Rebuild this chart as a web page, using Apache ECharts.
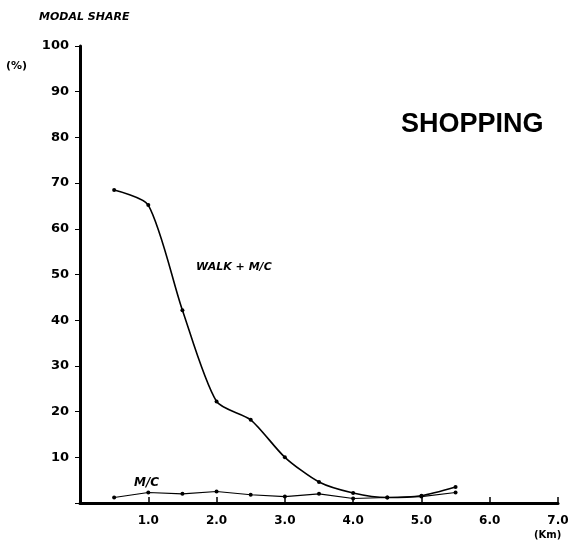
<!DOCTYPE html>
<html>
<head>
<meta charset="utf-8">
<script src="https://cdn.jsdelivr.net/npm/echarts@6/dist/echarts.min.js"></script>
<style>html,body{margin:0;padding:0;background:#fff;}#c{width:576px;height:546px;}</style>
</head>
<body>
<div id="c"></div>
<script>
// Distance (km)
var distances = [0.5, 1.0, 1.5, 2.0, 2.5, 3.0, 3.5, 4.0, 4.5, 5.0, 5.5];
// Modal share (%) WALK + M/C
var walkMc = [68.5, 65.2, 42.2, 22.2, 18.2, 10.0, 4.6, 2.2, 1.2, 1.6, 3.5];
// Modal share (%) M/C
var mc = [1.2, 2.3, 2.0, 2.5, 1.8, 1.4, 2.0, 1.0, 1.2, 1.4, 2.3];
var chartTitle = 'SHOPPING';
var yName = 'MODAL SHARE';
var xName = '(Km)';

function pairs(xs, ys) { return xs.map(function (x, i) { return [x, ys[i]]; }); }

var chart = echarts.init(document.getElementById('c'));
var font = 'Liberation Sans, Arial, sans-serif';
var wide = '"DejaVu Sans", sans-serif';
chart.setOption({
  animation: false,
  backgroundColor: '#fff',
  grid: { left: 80, right: 18, top: 46, bottom: 43 },
  xAxis: {
    type: 'value', min: 0, max: 7, interval: 1,
    axisLine: { lineStyle: { color: '#000', width: 3 } },
    axisTick: { inside: true, length: 6, lineStyle: { color: '#000', width: 1.5 } },
    splitLine: { show: false },
    axisLabel: {
      color: '#000', fontFamily: wide, fontWeight: 'bold', fontSize: 12, margin: 12,
      formatter: function (v) { return v === 0 ? '' : v.toFixed(1); }
    }
  },
  yAxis: {
    type: 'value', min: 0, max: 100, interval: 10,
    axisLine: { show: true, lineStyle: { color: '#000', width: 3 } },
    axisTick: { show: true, length: 5, lineStyle: { color: '#000', width: 1 } },
    splitLine: { show: false },
    axisLabel: {
      color: '#000', fontFamily: wide, fontWeight: 'bold', fontSize: 13, margin: 11,
      verticalAlign: 'middle', padding: [0, 0, 6, 0],
      formatter: function (v) { return v === 0 ? '' : String(v); }
    }
  },
  graphic: [
    { type: 'text', left: 39, top: 12, style: { text: yName, font: 'italic bold 11px ' + wide, fill: '#000' } },
    { type: 'text', left: 6, top: 61, style: { text: '(%)', font: 'bold 11px ' + wide, fill: '#000' } },
    { type: 'text', left: 534, top: 530, style: { text: xName, font: 'bold 10px ' + wide, fill: '#000' } },
    { type: 'text', left: 401, top: 111, style: { text: chartTitle, font: 'bold 27px ' + font, fill: '#000' } },
    { type: 'text', left: 196, top: 262, style: { text: 'WALK + M/C', font: 'italic bold 11px ' + wide, fill: '#000' } },
    { type: 'text', left: 134, top: 477, style: { text: 'M/C', font: 'italic bold 12px ' + wide, fill: '#000' } }
  ],
  series: [
    {
      type: 'line', name: 'WALK + M/C', data: pairs(distances, walkMc), smooth: 0.25,
      symbol: 'circle', symbolSize: 4,
      lineStyle: { color: '#000', width: 1.6 }, itemStyle: { color: '#000' }
    },
    {
      type: 'line', name: 'M/C', data: pairs(distances, mc), smooth: false,
      symbol: 'circle', symbolSize: 4,
      lineStyle: { color: '#000', width: 1.1 }, itemStyle: { color: '#000' }
    }
  ]
});
</script>
</body>
</html>
